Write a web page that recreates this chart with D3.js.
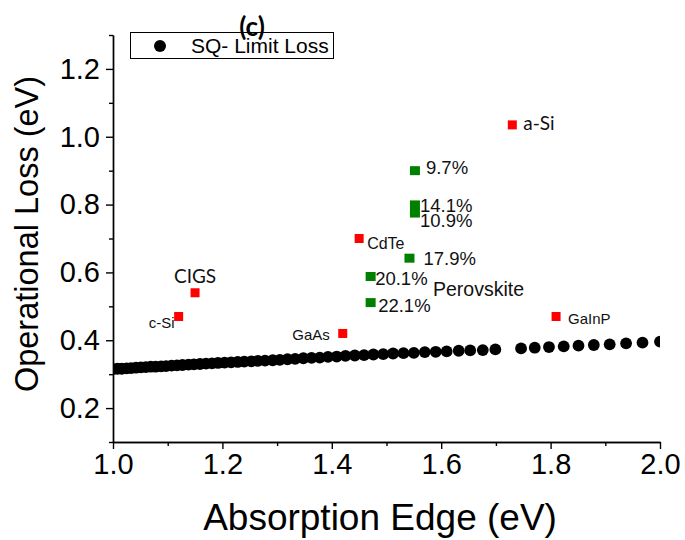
<!DOCTYPE html>
<html>
<head>
<meta charset="utf-8">
<script src="https://cdn.jsdelivr.net/npm/d3@7"></script>
<style>
    body { margin: 0; background: #fff; }
    .tick text { font-family: "Liberation Sans", Arial, sans-serif; }
</style>
</head>
<body>
<div id="scatter"></div>
<script>
// SQ limit loss (black dots)
var sqEdge = [1.000, 1.008, 1.016, 1.025, 1.033, 1.042, 1.051, 1.060, 1.069, 1.078,
    1.088, 1.097, 1.107, 1.117, 1.127, 1.138, 1.148, 1.159, 1.170, 1.181,
    1.192, 1.204, 1.216, 1.228, 1.240, 1.253, 1.265, 1.278, 1.292, 1.305,
    1.319, 1.333, 1.348, 1.363, 1.378, 1.393, 1.409, 1.425, 1.442, 1.459,
    1.476, 1.494, 1.512, 1.531, 1.550, 1.570, 1.590, 1.610, 1.632, 1.653,
    1.676, 1.699, 1.746, 1.771, 1.797, 1.824, 1.851, 1.879, 1.908, 1.938,
    1.968, 2.000];
var sqLoss = [0.315, 0.316, 0.316, 0.317, 0.318, 0.319, 0.320, 0.321, 0.322, 0.322,
    0.323, 0.324, 0.325, 0.326, 0.327, 0.328, 0.329, 0.330, 0.331, 0.332,
    0.333, 0.334, 0.335, 0.336, 0.337, 0.338, 0.339, 0.340, 0.341, 0.342,
    0.344, 0.345, 0.347, 0.348, 0.349, 0.351, 0.352, 0.354, 0.355, 0.356,
    0.358, 0.359, 0.361, 0.362, 0.363, 0.365, 0.366, 0.367, 0.369, 0.370,
    0.371, 0.373, 0.376, 0.378, 0.380, 0.382, 0.384, 0.386, 0.388, 0.391,
    0.393, 0.396];

// other solar cell materials (red squares)
var materials = ["c-Si", "CIGS", "GaAs", "CdTe", "a-Si", "GaInP"];
var matEdge = [1.12, 1.15, 1.42, 1.45, 1.73, 1.81];
var matLoss = [0.47, 0.54, 0.42, 0.70, 1.035, 0.47];

// perovskite cells (green squares), labelled by efficiency
var pvkLabels = ["9.7%", "14.1%", "10.9%", "17.9%", "20.1%", "22.1%"];
var pvkEdge = [1.552, 1.552, 1.552, 1.542, 1.471, 1.471];
var pvkLoss = [0.900, 0.799, 0.775, 0.642, 0.588, 0.511];

// axis ticks
var xTicks = [1.0, 1.2, 1.4, 1.6, 1.8, 2.0];
var xMinor = [1.1, 1.3, 1.5, 1.7, 1.9];
var yTicks = [0.2, 0.4, 0.6, 0.8, 1.0, 1.2];
var yMinor = [0.1, 0.3, 0.5, 0.7, 0.9, 1.1, 1.3];

makePlot();

function makePlot() {
    var arial = '"Liberation Sans", Arial, sans-serif';
    var calibri = 'Lato, "Open Sans", sans-serif';

    // STEP 1: canvas
    var svgWidth = 685;
    var svgHeight = 540;
    var margin = { top: 35, right: 25, bottom: 98, left: 113 };
    var chart_width = svgWidth - margin.left - margin.right;
    var chart_height = svgHeight - margin.top - margin.bottom;

    var svg = d3.select("#scatter")
        .append("svg")
        .attr("width", svgWidth)
        .attr("height", svgHeight);

    var chartGroup = svg.append("g")
        .attr("transform", `translate(${margin.left}, ${margin.top})`);

    svg.append("defs").append("clipPath")
        .attr("id", "plotClip")
        .append("rect")
        .attr("x", 0)
        .attr("y", 0)
        .attr("width", chart_width)
        .attr("height", chart_height);

    // STEP 2: scales
    var xScale = d3.scaleLinear().domain([1.0, 2.0]).range([0, chart_width]);
    var yScale = d3.scaleLinear().domain([0.1, 1.3]).range([chart_height, 0]);

    // STEP 3: axes (major + minor)
    var fmt = d3.format(".1f");
    var bottomAxis = d3.axisBottom(xScale).tickValues(xTicks).tickFormat(fmt)
        .tickSize(7).tickSizeOuter(0).tickPadding(4);
    var bottomMinor = d3.axisBottom(xScale).tickValues(xMinor).tickFormat("")
        .tickSize(4).tickSizeOuter(0);
    var leftAxis = d3.axisLeft(yScale).tickValues(yTicks).tickFormat(fmt)
        .tickSize(7).tickSizeOuter(0).tickPadding(6);
    var leftMinor = d3.axisLeft(yScale).tickValues(yMinor).tickFormat("")
        .tickSize(4).tickSizeOuter(0);

    var axes = [
        chartGroup.append("g").attr("transform", `translate(0, ${chart_height})`).call(bottomAxis),
        chartGroup.append("g").attr("transform", `translate(0, ${chart_height})`).call(bottomMinor),
        chartGroup.append("g").call(leftAxis),
        chartGroup.append("g").call(leftMinor)
    ];
    axes.forEach(function(g) {
        g.selectAll("path, line").attr("stroke", "#000").attr("stroke-width", 1.4);
        g.selectAll("text").attr("font-size", 29).attr("fill", "#000");
    });

    // STEP 4: SQ limit dots
    var sqData = sqEdge.map(function(e, i) { return { edge: e, loss: sqLoss[i] }; });
    chartGroup.append("g")
        .attr("clip-path", "url(#plotClip)")
        .selectAll("circle")
        .data(sqData)
        .enter()
        .append("circle")
        .attr("cx", d => xScale(d.edge))
        .attr("cy", d => yScale(d.loss))
        .attr("r", 5.9)
        .attr("fill", "#000");

    // STEP 5: materials (red)
    // label placement relative to each square, in px
    var matLabelStyle = {
        "c-Si":  { dx: -4, dy: 11, anchor: "end", size: 15, font: arial },
        "CIGS":  { dx: 0, dy: -10, anchor: "middle", size: 19, font: calibri },
        "GaAs":  { dx: -13, dy: 7, anchor: "end", size: 15, font: arial },
        "CdTe":  { dx: 8, dy: 10, anchor: "start", size: 16, font: arial },
        "a-Si":  { dx: 11, dy: 5, anchor: "start", size: 19, font: calibri },
        "GaInP": { dx: 12, dy: 7, anchor: "start", size: 15, font: arial }
    };
    var matData = materials.map(function(m, i) { return { name: m, edge: matEdge[i], loss: matLoss[i] }; });
    var sq = 9;
    chartGroup.append("g")
        .selectAll("rect")
        .data(matData)
        .enter()
        .append("rect")
        .attr("x", d => xScale(d.edge) - sq / 2)
        .attr("y", d => yScale(d.loss) - sq / 2)
        .attr("width", sq)
        .attr("height", sq)
        .attr("fill", "#ff0000");

    chartGroup.append("g")
        .selectAll("text")
        .data(matData)
        .enter()
        .append("text")
        .text(d => d.name)
        .attr("x", d => xScale(d.edge) + matLabelStyle[d.name].dx)
        .attr("y", d => yScale(d.loss) + matLabelStyle[d.name].dy)
        .attr("text-anchor", d => matLabelStyle[d.name].anchor)
        .attr("font-family", d => matLabelStyle[d.name].font)
        .attr("font-size", d => matLabelStyle[d.name].size)
        .attr("fill", "#111");

    // STEP 6: perovskites (green)
    var pvkOffsets = [[11, 3], [5, 7.5], [5, 13.5], [14, 7], [4.5, 8.5], [7.5, 9]];
    var pvkData = pvkLabels.map(function(l, i) { return { label: l, edge: pvkEdge[i], loss: pvkLoss[i], off: pvkOffsets[i] }; });
    chartGroup.append("g")
        .selectAll("rect")
        .data(pvkData)
        .enter()
        .append("rect")
        .attr("x", d => xScale(d.edge) - 5)
        .attr("y", d => yScale(d.loss) - 4.5)
        .attr("width", 10)
        .attr("height", 9)
        .attr("fill", "#008000");

    chartGroup.append("g")
        .selectAll("text")
        .data(pvkData)
        .enter()
        .append("text")
        .text(d => d.label)
        .attr("x", d => xScale(d.edge) + d.off[0])
        .attr("y", d => yScale(d.loss) + d.off[1])
        .attr("font-family", arial)
        .attr("font-size", 18.5)
        .attr("fill", "#111");

    chartGroup.append("text")
        .text("Perovskite")
        .attr("x", xScale(1.585))
        .attr("y", yScale(0.529))
        .attr("font-family", arial)
        .attr("font-size", 19.5)
        .attr("fill", "#111");

    // STEP 7: axis titles
    chartGroup.append("text")
        .attr("transform", `translate(${38 - margin.left}, ${234 - margin.top}) rotate(-90)`)
        .attr("text-anchor", "middle")
        .attr("font-family", arial)
        .attr("font-size", 32.5)
        .text("Operational Loss (eV)");

    chartGroup.append("text")
        .attr("transform", `translate(${380 - margin.left}, ${530 - margin.top})`)
        .attr("text-anchor", "middle")
        .attr("font-family", arial)
        .attr("font-size", 37)
        .text("Absorption Edge (eV)");

    // STEP 8: legend and panel letter
    var legend = svg.append("g");
    legend.append("rect")
        .attr("x", 130.5)
        .attr("y", 32.5)
        .attr("width", 203)
        .attr("height", 26)
        .attr("fill", "#fff")
        .attr("stroke", "#000")
        .attr("stroke-width", 1);
    legend.append("circle")
        .attr("cx", 160)
        .attr("cy", 46)
        .attr("r", 6)
        .attr("fill", "#000");
    legend.append("text")
        .attr("x", 191)
        .attr("y", 53)
        .attr("font-family", arial)
        .attr("font-size", 21)
        .text("SQ- Limit Loss");

    svg.append("text")
        .attr("x", 252)
        .attr("y", 36)
        .attr("text-anchor", "middle")
        .attr("font-family", calibri)
        .attr("font-weight", "bold")
        .attr("font-size", 26)
        .text("(c)");
}
</script>
</body>
</html>
